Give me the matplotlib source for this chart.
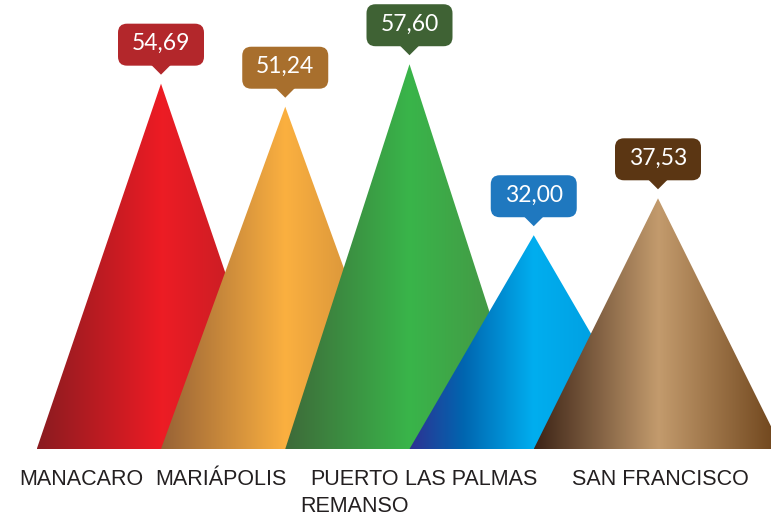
import matplotlib
matplotlib.use("Agg")
import matplotlib.pyplot as plt
import numpy as np
from matplotlib.colors import LinearSegmentedColormap
from matplotlib.patches import Polygon, FancyBboxPatch
from matplotlib.transforms import IdentityTransform

categories = ["MANACARO", "MARIÁPOLIS", "PUERTO\nREMANSO", "LAS PALMAS", "SAN FRANCISCO"]
values = [54.69, 51.24, 57.60, 32.00, 37.53]
value_labels = ["54,69", "51,24", "57,60", "32,00", "37,53"]
label_offsets = [-0.64, -0.52, -0.44, -0.50, 0.02]

gradients = [
    ["#8A1B20", "#ED1C24", "#B01F25"],
    ["#976236", "#FBB040", "#BC7F36"],
    ["#3E6A39", "#39B54A", "#4A8B43"],
    ["#2E3192", "#0066B0", "#00AEEF", "#0092D6"],
    ["#3C2316", "#C39B6D", "#6B4118"],
]
box_colors = ["#B3272B", "#A86F2D", "#3F6234", "#1F78BF", "#5B3613"]

W, H = 771, 521
fig = plt.figure(figsize=(W / 100, H / 100), dpi=100)
fig.patch.set_facecolor("white")
base_px = 449
ax = fig.add_axes([0, (H - base_px) / H, 1, base_px / H])
spacing = 124.25
x0 = 161
px_per_unit = 6.68
ax.set_xlim(-x0 / spacing, (W - x0) / spacing)
ax.set_ylim(0, base_px / px_per_unit)
ax.axis("off")

grad = np.linspace(0, 1, 512).reshape(1, -1)
for i, (v, cols) in enumerate(zip(values, gradients)):
    cmap = LinearSegmentedColormap.from_list(f"g{i}", cols) if len(cols) == 3 else \
        LinearSegmentedColormap.from_list(f"g{i}", list(zip([0, 0.22, 0.5, 1], cols)))
    poly = Polygon([(i - 1, 0), (i, v), (i + 1, 0)], closed=True,
                   transform=ax.transData, facecolor="none", edgecolor="none")
    im = ax.imshow(grad, extent=(i - 1, i + 1, 0, v), aspect="auto", cmap=cmap,
                   zorder=i + 1, interpolation="bilinear")
    im.set_clip_path(poly)

ax.set_xlim(-x0 / spacing, (W - x0) / spacing)
ax.set_ylim(0, base_px / px_per_unit)

fig.canvas.draw()
ident = IdentityTransform()
bw, bh = 86, 42
for i, (v, lab, bc) in enumerate(zip(values, value_labels, box_colors)):
    ax_px, ay_px = ax.transData.transform((i, v))
    tip_y = ay_px + 9
    bottom = ay_px + 18
    box = FancyBboxPatch((ax_px - bw / 2, bottom), bw, bh,
                         boxstyle="round,pad=0,rounding_size=9",
                         facecolor=bc, edgecolor="none", transform=ident, zorder=10)
    fig.add_artist(box)
    ptr = Polygon([(ax_px - 10, bottom + 1), (ax_px + 10, bottom + 1), (ax_px, tip_y)],
                  closed=True, facecolor=bc, edgecolor="none", transform=ident, zorder=10)
    fig.add_artist(ptr)
    fig.text(ax_px / W, (bottom + bh / 2 + 1) / H, lab, color="white", fontsize=16.5,
             family=["Lato", "DejaVu Sans"], weight="normal",
             ha="center", va="center", zorder=11)

for i, (cat, off) in enumerate(zip(categories, label_offsets)):
    ax.annotate(cat, xy=(i + off, 0), xytext=(0, -20), textcoords="offset pixels",
                ha="center", va="top", fontsize=15.5, color="#231F20",
                family=["Liberation Sans", "DejaVu Sans"], linespacing=1.4,
                annotation_clip=False)

fig.savefig("out.png", dpi=100, facecolor="white")
